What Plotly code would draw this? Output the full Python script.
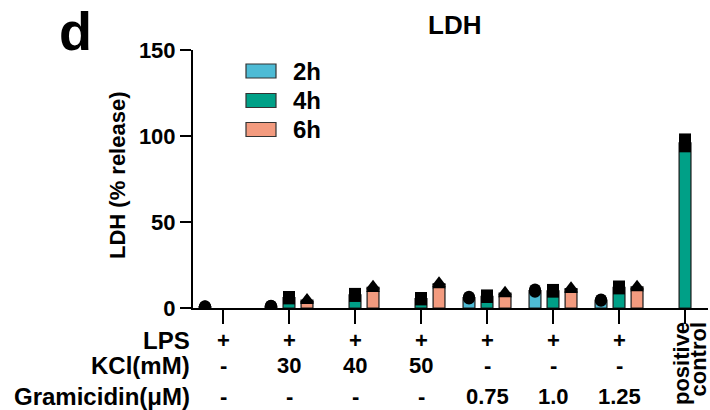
import plotly.graph_objects as go

# ---------------- data ----------------
groups = ["LPS", "KCl 30", "KCl 40", "KCl 50", "Gram 0.75", "Gram 1.0", "Gram 1.25", "positive control"]
series_names = ["2h", "4h", "6h"]

# replicate values (% release) per group; None = not measured
rep_2h = [[0.6, 0.8, 1.0], [0.9, 1.1, 1.3], None, None, [5.5, 6.0, 6.5], [9.5, 10.0, 10.8], [4.2, 4.6, 5.0], None]
rep_4h = [None, [5.6, 6.0, 6.4], [7.0, 7.6, 8.2], [5.0, 5.4, 5.8], [6.4, 6.8, 7.3], [9.5, 10.0, 10.5], [11.4, 12.0, 12.5], [94.0, 96.0, 98.0]]
rep_6h = [None, [4.0, 4.6, 5.3], [11.0, 12.0, 13.0], [13.2, 14.0, 15.0], [8.0, 8.6, 9.4], [10.5, 11.2, 12.0], [11.5, 12.2, 13.0], None]

lps_row = ["+", "+", "+", "+", "+", "+", "+"]
kcl_row = ["-", "30", "40", "50", "-", "-", "-"]
gram_row = ["-", "-", "-", "-", "0.75", "1.0", "1.25"]
row_labels = ["LPS", "KCl(mM)", "Gramicidin(μM)"]

y_ticks = [0, 50, 100, 150]

# ---------------- style ----------------
colors = ["#4DBBD5", "#00A087", "#F39B7F"]
symbols = ["circle", "square", "triangle-up"]
offsets = [-0.273, 0.0, 0.273]
FONT = "Liberation Sans, Arial, sans-serif"

W, H = 710, 410
L, R, T, B = 193, 2, 50, 102
PW, PH = W - L - R, H - T - B


def px_x(px):
    return (px - L) / PW


def px_y(py):
    return (H - B - py) / PH


fig = go.Figure()

for reps, name, col, sym, off in zip([rep_2h, rep_4h, rep_6h], series_names, colors, symbols, offsets):
    bx, by = [], []
    sx, sy = [], []
    for gi, r in enumerate(reps):
        if r is None:
            continue
        bx.append(gi + off)
        by.append(sum(r) / len(r))
        for v in r:
            sx.append(gi + off)
            sy.append(v)
    fig.add_trace(go.Bar(x=bx, y=by, width=0.18, name=name,
                         marker=dict(color=col, line=dict(color="#1a1a1a", width=1.2)),
                         showlegend=False))
    fig.add_trace(go.Scatter(x=sx, y=sy, mode="markers", name=name + " points",
                             marker=dict(symbol=sym, size=12, color="black", line=dict(width=0)),
                             showlegend=False))

tf = dict(family=FONT, size=22, color="black", weight="bold")
rf = dict(family=FONT, size=24, color="black", weight="bold")

fig.update_layout(
    width=W, height=H,
    margin=dict(l=L, r=R, t=T, b=B),
    paper_bgcolor="white", plot_bgcolor="white",
    font=tf,
    barmode="overlay",
    xaxis=dict(range=[-0.4545, 7.348], tickvals=list(range(len(groups))), showticklabels=False,
               ticks="outside", ticklen=14, tickwidth=2, tickcolor="black",
               showline=True, linewidth=2, linecolor="black", showgrid=False, zeroline=False),
    yaxis=dict(range=[0, 150], tickvals=y_ticks, ticks="outside", ticklen=11, tickwidth=2,
               tickcolor="black", showline=True, linewidth=2, linecolor="black",
               showgrid=False, zeroline=False, tickfont=tf),
)

ann = []
# panel letter and title
ann.append(dict(text="d", xref="paper", yref="paper", x=px_x(75.5), y=px_y(31), xanchor="center",
                yanchor="middle", showarrow=False, font=dict(family=FONT, size=54, color="black", weight="bold")))
ann.append(dict(text="LDH", xref="paper", yref="paper", x=px_x(454), y=px_y(25), xanchor="center",
                yanchor="middle", showarrow=False, font=dict(family=FONT, size=26, color="black", weight="bold")))
# y-axis title
ann.append(dict(text="LDH (% release)", xref="paper", yref="paper", x=px_x(117), y=px_y(175),
                xanchor="center", yanchor="middle", textangle=-90, showarrow=False, font=tf))

# legend (drawn manually)
shapes = []
leg_y = [71, 100.5, 129.5]
for name, col, cy in zip(series_names, colors, leg_y):
    shapes.append(dict(type="rect", xref="paper", yref="paper", x0=px_x(246), x1=px_x(276),
                       y0=px_y(cy + 7), y1=px_y(cy - 7), fillcolor=col,
                       line=dict(color="#333333", width=1.2)))
    ann.append(dict(text=name, xref="paper", yref="paper", x=px_x(291), y=px_y(cy), xanchor="left",
                    yanchor="middle", showarrow=False,
                    font=dict(family=FONT, size=24, color="black", weight="bold")))

# condition table below the axis
row_shift = [-32, -57, -88]
for lab, rowvals, ys in zip(row_labels, [lps_row, kcl_row, gram_row], row_shift):
    ann.append(dict(text=lab, xref="paper", yref="paper", x=0, y=0, xshift=-1, yshift=ys,
                    xanchor="right", yanchor="middle", showarrow=False, font=rf))
    for gi, v in enumerate(rowvals):
        ann.append(dict(text=v, xref="x", yref="paper", x=gi, y=0, yshift=ys,
                        xanchor="center", yanchor="middle", showarrow=False, font=tf))

# positive control label (rotated, two lines)
for word, xs in zip(["positive", "control"], [-3.5, 13]):
    ann.append(dict(text=word, xref="x", yref="paper", x=len(groups) - 1, y=0, xshift=xs, yshift=-12,
                    xanchor="center", yanchor="top", textangle=-90, showarrow=False, font=tf))

fig.update_layout(annotations=ann, shapes=shapes)

fig.write_html("out.html", config={"displayModeBar": False},
               post_script="document.body.style.margin='0';document.body.style.padding='0';")
